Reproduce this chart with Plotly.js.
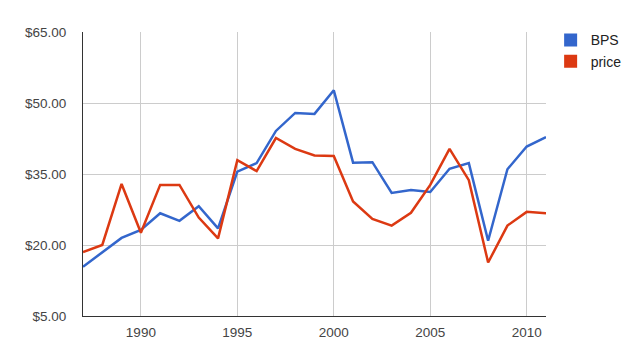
<!DOCTYPE html>
<html>
<head>
<meta charset="utf-8">
<script src="https://cdn.plot.ly/plotly-3.0.1.min.js"></script>
<style>html,body{margin:0;padding:0;background:#fff;}#chart{width:626px;height:362px;}</style>
</head>
<body>
<div id="chart"></div>
<script>
const years = [1987,1988,1989,1990,1991,1992,1993,1994,1995,1996,1997,1998,1999,2000,2001,2002,2003,2004,2005,2006,2007,2008,2009,2010,2011];
const bps = [15.4,18.5,21.5,23.2,26.7,25.1,28.2,23.5,35.5,37.3,44.1,47.9,47.7,52.7,37.4,37.5,31.0,31.6,31.2,36.1,37.3,20.9,36.0,40.8,42.8];
const price = [18.5,20.0,32.9,22.6,32.7,32.7,25.8,21.4,37.9,35.6,42.6,40.3,38.9,38.8,29.2,25.5,24.1,26.8,32.7,40.3,33.7,16.3,24.1,27.0,26.7];
const seriesNames = ['BPS','price'];
const colors = ['#3366cc','#dc3912'];
const yTicks = [5,20,35,50,65];
const yTickText = ['$5.00','$20.00','$35.00','$50.00','$65.00'];
const xTicks = [1990,1995,2000,2005,2010];

const lines = [bps, price].map((v,i)=>({
  x: years, y: v, type:'scatter', mode:'lines', name: seriesNames[i],
  line:{color:colors[i], width:2.5}, showlegend:false, hoverinfo:'skip'
}));
const legendItems = seriesNames.map((n,i)=>({
  x:[null], y:[null], type:'scatter', mode:'markers', name:n,
  marker:{symbol:'square', size:13, color:colors[i]}
}));

const layout = {
  width:626, height:362,
  margin:{l:83, r:80, t:32, b:46, autoexpand:false},
  paper_bgcolor:'#fff', plot_bgcolor:'#fff',
  font:{family:'Liberation Sans, Arial, sans-serif', size:13.5, color:'#444'},
  xaxis:{range:[1987,2011], tickvals:xTicks, ticktext:xTicks.map(String),
    showgrid:true, gridcolor:'#cccccc', gridwidth:1, zeroline:false,
    showline:true, linecolor:'#333', linewidth:1, ticks:'', fixedrange:true,
    tickfont:{size:13.5, color:'#444'}, ticklabelstandoff:4, automargin:false},
  yaxis:{range:[5,65], tickvals:yTicks, ticktext:yTickText,
    showgrid:true, gridcolor:'#cccccc', gridwidth:1, zeroline:false,
    showline:true, linecolor:'#333', linewidth:1, ticks:'', fixedrange:true,
    tickfont:{size:13.5, color:'#444'}, ticklabelstandoff:13, automargin:false},
  legend:{x:1.01, xanchor:'left', y:1.027, yanchor:'top', font:{size:14, color:'#222'},
    tracegroupgap:0, itemwidth:30, bgcolor:'rgba(0,0,0,0)'},
  showlegend:true
};
Plotly.newPlot('chart', [...lines, ...legendItems], layout, {displayModeBar:false, staticPlot:true});
</script>
</body>
</html>
